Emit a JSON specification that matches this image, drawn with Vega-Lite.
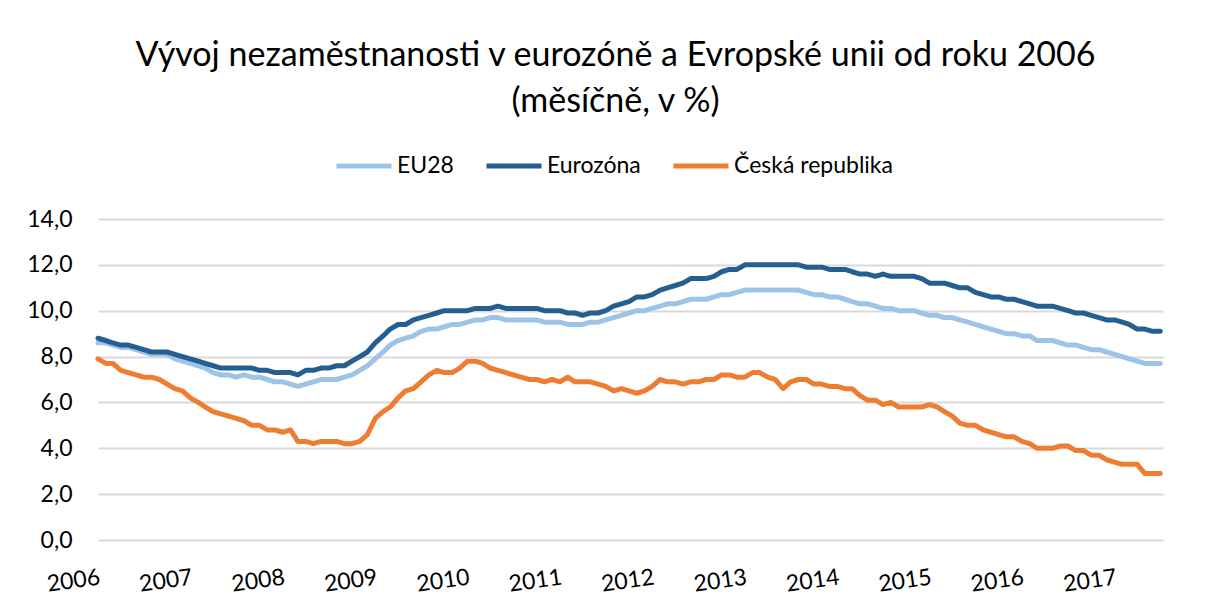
{
  "$schema": "https://vega.github.io/schema/vega-lite/v6.json",
  "width": 1065,
  "height": 321,
  "autosize": {"type": "none"},
  "padding": {"left": 98, "top": 219, "right": 51, "bottom": 67},
  "background": "white",
  "title": {
    "text": ["Vývoj nezaměstnanosti v eurozóně a Evropské unii od roku 2006", "(měsíčně, v %)"],
    "font": "Lato",
    "fontSize": 34,
    "fontWeight": "normal",
    "color": "#000000",
    "anchor": "middle",
    "frame": "group",
    "lineHeight": 46,
    "offset": 17,
    "dx": -15
  },
  "data": {
    "values": [
      {"d":"2006-01","s":"EU28","v":8.6},{"d":"2006-02","s":"EU28","v":8.6},{"d":"2006-03","s":"EU28","v":8.5},{"d":"2006-04","s":"EU28","v":8.4},{"d":"2006-05","s":"EU28","v":8.4},{"d":"2006-06","s":"EU28","v":8.3},{"d":"2006-07","s":"EU28","v":8.2},{"d":"2006-08","s":"EU28","v":8.1},{"d":"2006-09","s":"EU28","v":8.1},{"d":"2006-10","s":"EU28","v":8.1},{"d":"2006-11","s":"EU28","v":7.9},{"d":"2006-12","s":"EU28","v":7.8},
      {"d":"2007-01","s":"EU28","v":7.7},{"d":"2007-02","s":"EU28","v":7.6},{"d":"2007-03","s":"EU28","v":7.5},{"d":"2007-04","s":"EU28","v":7.3},{"d":"2007-05","s":"EU28","v":7.2},{"d":"2007-06","s":"EU28","v":7.2},{"d":"2007-07","s":"EU28","v":7.1},{"d":"2007-08","s":"EU28","v":7.2},{"d":"2007-09","s":"EU28","v":7.1},{"d":"2007-10","s":"EU28","v":7.1},{"d":"2007-11","s":"EU28","v":7.0},{"d":"2007-12","s":"EU28","v":6.9},
      {"d":"2008-01","s":"EU28","v":6.9},{"d":"2008-02","s":"EU28","v":6.8},{"d":"2008-03","s":"EU28","v":6.7},{"d":"2008-04","s":"EU28","v":6.8},{"d":"2008-05","s":"EU28","v":6.9},{"d":"2008-06","s":"EU28","v":7.0},{"d":"2008-07","s":"EU28","v":7.0},{"d":"2008-08","s":"EU28","v":7.0},{"d":"2008-09","s":"EU28","v":7.1},{"d":"2008-10","s":"EU28","v":7.2},{"d":"2008-11","s":"EU28","v":7.4},{"d":"2008-12","s":"EU28","v":7.6},
      {"d":"2009-01","s":"EU28","v":7.9},{"d":"2009-02","s":"EU28","v":8.2},{"d":"2009-03","s":"EU28","v":8.5},{"d":"2009-04","s":"EU28","v":8.7},{"d":"2009-05","s":"EU28","v":8.8},{"d":"2009-06","s":"EU28","v":8.9},{"d":"2009-07","s":"EU28","v":9.1},{"d":"2009-08","s":"EU28","v":9.2},{"d":"2009-09","s":"EU28","v":9.2},{"d":"2009-10","s":"EU28","v":9.3},{"d":"2009-11","s":"EU28","v":9.4},{"d":"2009-12","s":"EU28","v":9.4},
      {"d":"2010-01","s":"EU28","v":9.5},{"d":"2010-02","s":"EU28","v":9.6},{"d":"2010-03","s":"EU28","v":9.6},{"d":"2010-04","s":"EU28","v":9.7},{"d":"2010-05","s":"EU28","v":9.7},{"d":"2010-06","s":"EU28","v":9.6},{"d":"2010-07","s":"EU28","v":9.6},{"d":"2010-08","s":"EU28","v":9.6},{"d":"2010-09","s":"EU28","v":9.6},{"d":"2010-10","s":"EU28","v":9.6},{"d":"2010-11","s":"EU28","v":9.5},{"d":"2010-12","s":"EU28","v":9.5},
      {"d":"2011-01","s":"EU28","v":9.5},{"d":"2011-02","s":"EU28","v":9.4},{"d":"2011-03","s":"EU28","v":9.4},{"d":"2011-04","s":"EU28","v":9.4},{"d":"2011-05","s":"EU28","v":9.5},{"d":"2011-06","s":"EU28","v":9.5},{"d":"2011-07","s":"EU28","v":9.6},{"d":"2011-08","s":"EU28","v":9.7},{"d":"2011-09","s":"EU28","v":9.8},{"d":"2011-10","s":"EU28","v":9.9},{"d":"2011-11","s":"EU28","v":10.0},{"d":"2011-12","s":"EU28","v":10.0},
      {"d":"2012-01","s":"EU28","v":10.1},{"d":"2012-02","s":"EU28","v":10.2},{"d":"2012-03","s":"EU28","v":10.3},{"d":"2012-04","s":"EU28","v":10.3},{"d":"2012-05","s":"EU28","v":10.4},{"d":"2012-06","s":"EU28","v":10.5},{"d":"2012-07","s":"EU28","v":10.5},{"d":"2012-08","s":"EU28","v":10.5},{"d":"2012-09","s":"EU28","v":10.6},{"d":"2012-10","s":"EU28","v":10.7},{"d":"2012-11","s":"EU28","v":10.7},{"d":"2012-12","s":"EU28","v":10.8},
      {"d":"2013-01","s":"EU28","v":10.9},{"d":"2013-02","s":"EU28","v":10.9},{"d":"2013-03","s":"EU28","v":10.9},{"d":"2013-04","s":"EU28","v":10.9},{"d":"2013-05","s":"EU28","v":10.9},{"d":"2013-06","s":"EU28","v":10.9},{"d":"2013-07","s":"EU28","v":10.9},{"d":"2013-08","s":"EU28","v":10.9},{"d":"2013-09","s":"EU28","v":10.8},{"d":"2013-10","s":"EU28","v":10.7},{"d":"2013-11","s":"EU28","v":10.7},{"d":"2013-12","s":"EU28","v":10.6},
      {"d":"2014-01","s":"EU28","v":10.6},{"d":"2014-02","s":"EU28","v":10.5},{"d":"2014-03","s":"EU28","v":10.4},{"d":"2014-04","s":"EU28","v":10.3},{"d":"2014-05","s":"EU28","v":10.3},{"d":"2014-06","s":"EU28","v":10.2},{"d":"2014-07","s":"EU28","v":10.1},{"d":"2014-08","s":"EU28","v":10.1},{"d":"2014-09","s":"EU28","v":10.0},{"d":"2014-10","s":"EU28","v":10.0},{"d":"2014-11","s":"EU28","v":10.0},{"d":"2014-12","s":"EU28","v":9.9},
      {"d":"2015-01","s":"EU28","v":9.8},{"d":"2015-02","s":"EU28","v":9.8},{"d":"2015-03","s":"EU28","v":9.7},{"d":"2015-04","s":"EU28","v":9.7},{"d":"2015-05","s":"EU28","v":9.6},{"d":"2015-06","s":"EU28","v":9.5},{"d":"2015-07","s":"EU28","v":9.4},{"d":"2015-08","s":"EU28","v":9.3},{"d":"2015-09","s":"EU28","v":9.2},{"d":"2015-10","s":"EU28","v":9.1},{"d":"2015-11","s":"EU28","v":9.0},{"d":"2015-12","s":"EU28","v":9.0},
      {"d":"2016-01","s":"EU28","v":8.9},{"d":"2016-02","s":"EU28","v":8.9},{"d":"2016-03","s":"EU28","v":8.7},{"d":"2016-04","s":"EU28","v":8.7},{"d":"2016-05","s":"EU28","v":8.7},{"d":"2016-06","s":"EU28","v":8.6},{"d":"2016-07","s":"EU28","v":8.5},{"d":"2016-08","s":"EU28","v":8.5},{"d":"2016-09","s":"EU28","v":8.4},{"d":"2016-10","s":"EU28","v":8.3},{"d":"2016-11","s":"EU28","v":8.3},{"d":"2016-12","s":"EU28","v":8.2},
      {"d":"2017-01","s":"EU28","v":8.1},{"d":"2017-02","s":"EU28","v":8.0},{"d":"2017-03","s":"EU28","v":7.9},{"d":"2017-04","s":"EU28","v":7.8},{"d":"2017-05","s":"EU28","v":7.7},{"d":"2017-06","s":"EU28","v":7.7},{"d":"2017-07","s":"EU28","v":7.7},

      {"d":"2006-01","s":"Eurozóna","v":8.8},{"d":"2006-02","s":"Eurozóna","v":8.7},{"d":"2006-03","s":"Eurozóna","v":8.6},{"d":"2006-04","s":"Eurozóna","v":8.5},{"d":"2006-05","s":"Eurozóna","v":8.5},{"d":"2006-06","s":"Eurozóna","v":8.4},{"d":"2006-07","s":"Eurozóna","v":8.3},{"d":"2006-08","s":"Eurozóna","v":8.2},{"d":"2006-09","s":"Eurozóna","v":8.2},{"d":"2006-10","s":"Eurozóna","v":8.2},{"d":"2006-11","s":"Eurozóna","v":8.1},{"d":"2006-12","s":"Eurozóna","v":8.0},
      {"d":"2007-01","s":"Eurozóna","v":7.9},{"d":"2007-02","s":"Eurozóna","v":7.8},{"d":"2007-03","s":"Eurozóna","v":7.7},{"d":"2007-04","s":"Eurozóna","v":7.6},{"d":"2007-05","s":"Eurozóna","v":7.5},{"d":"2007-06","s":"Eurozóna","v":7.5},{"d":"2007-07","s":"Eurozóna","v":7.5},{"d":"2007-08","s":"Eurozóna","v":7.5},{"d":"2007-09","s":"Eurozóna","v":7.5},{"d":"2007-10","s":"Eurozóna","v":7.4},{"d":"2007-11","s":"Eurozóna","v":7.4},{"d":"2007-12","s":"Eurozóna","v":7.3},
      {"d":"2008-01","s":"Eurozóna","v":7.3},{"d":"2008-02","s":"Eurozóna","v":7.3},{"d":"2008-03","s":"Eurozóna","v":7.2},{"d":"2008-04","s":"Eurozóna","v":7.4},{"d":"2008-05","s":"Eurozóna","v":7.4},{"d":"2008-06","s":"Eurozóna","v":7.5},{"d":"2008-07","s":"Eurozóna","v":7.5},{"d":"2008-08","s":"Eurozóna","v":7.6},{"d":"2008-09","s":"Eurozóna","v":7.6},{"d":"2008-10","s":"Eurozóna","v":7.8},{"d":"2008-11","s":"Eurozóna","v":8.0},{"d":"2008-12","s":"Eurozóna","v":8.2},
      {"d":"2009-01","s":"Eurozóna","v":8.6},{"d":"2009-02","s":"Eurozóna","v":8.9},{"d":"2009-03","s":"Eurozóna","v":9.2},{"d":"2009-04","s":"Eurozóna","v":9.4},{"d":"2009-05","s":"Eurozóna","v":9.4},{"d":"2009-06","s":"Eurozóna","v":9.6},{"d":"2009-07","s":"Eurozóna","v":9.7},{"d":"2009-08","s":"Eurozóna","v":9.8},{"d":"2009-09","s":"Eurozóna","v":9.9},{"d":"2009-10","s":"Eurozóna","v":10.0},{"d":"2009-11","s":"Eurozóna","v":10.0},{"d":"2009-12","s":"Eurozóna","v":10.0},
      {"d":"2010-01","s":"Eurozóna","v":10.0},{"d":"2010-02","s":"Eurozóna","v":10.1},{"d":"2010-03","s":"Eurozóna","v":10.1},{"d":"2010-04","s":"Eurozóna","v":10.1},{"d":"2010-05","s":"Eurozóna","v":10.2},{"d":"2010-06","s":"Eurozóna","v":10.1},{"d":"2010-07","s":"Eurozóna","v":10.1},{"d":"2010-08","s":"Eurozóna","v":10.1},{"d":"2010-09","s":"Eurozóna","v":10.1},{"d":"2010-10","s":"Eurozóna","v":10.1},{"d":"2010-11","s":"Eurozóna","v":10.0},{"d":"2010-12","s":"Eurozóna","v":10.0},
      {"d":"2011-01","s":"Eurozóna","v":10.0},{"d":"2011-02","s":"Eurozóna","v":9.9},{"d":"2011-03","s":"Eurozóna","v":9.9},{"d":"2011-04","s":"Eurozóna","v":9.8},{"d":"2011-05","s":"Eurozóna","v":9.9},{"d":"2011-06","s":"Eurozóna","v":9.9},{"d":"2011-07","s":"Eurozóna","v":10.0},{"d":"2011-08","s":"Eurozóna","v":10.2},{"d":"2011-09","s":"Eurozóna","v":10.3},{"d":"2011-10","s":"Eurozóna","v":10.4},{"d":"2011-11","s":"Eurozóna","v":10.6},{"d":"2011-12","s":"Eurozóna","v":10.6},
      {"d":"2012-01","s":"Eurozóna","v":10.7},{"d":"2012-02","s":"Eurozóna","v":10.9},{"d":"2012-03","s":"Eurozóna","v":11.0},{"d":"2012-04","s":"Eurozóna","v":11.1},{"d":"2012-05","s":"Eurozóna","v":11.2},{"d":"2012-06","s":"Eurozóna","v":11.4},{"d":"2012-07","s":"Eurozóna","v":11.4},{"d":"2012-08","s":"Eurozóna","v":11.4},{"d":"2012-09","s":"Eurozóna","v":11.5},{"d":"2012-10","s":"Eurozóna","v":11.7},{"d":"2012-11","s":"Eurozóna","v":11.8},{"d":"2012-12","s":"Eurozóna","v":11.8},
      {"d":"2013-01","s":"Eurozóna","v":12.0},{"d":"2013-02","s":"Eurozóna","v":12.0},{"d":"2013-03","s":"Eurozóna","v":12.0},{"d":"2013-04","s":"Eurozóna","v":12.0},{"d":"2013-05","s":"Eurozóna","v":12.0},{"d":"2013-06","s":"Eurozóna","v":12.0},{"d":"2013-07","s":"Eurozóna","v":12.0},{"d":"2013-08","s":"Eurozóna","v":12.0},{"d":"2013-09","s":"Eurozóna","v":11.9},{"d":"2013-10","s":"Eurozóna","v":11.9},{"d":"2013-11","s":"Eurozóna","v":11.9},{"d":"2013-12","s":"Eurozóna","v":11.8},
      {"d":"2014-01","s":"Eurozóna","v":11.8},{"d":"2014-02","s":"Eurozóna","v":11.8},{"d":"2014-03","s":"Eurozóna","v":11.7},{"d":"2014-04","s":"Eurozóna","v":11.6},{"d":"2014-05","s":"Eurozóna","v":11.6},{"d":"2014-06","s":"Eurozóna","v":11.5},{"d":"2014-07","s":"Eurozóna","v":11.6},{"d":"2014-08","s":"Eurozóna","v":11.5},{"d":"2014-09","s":"Eurozóna","v":11.5},{"d":"2014-10","s":"Eurozóna","v":11.5},{"d":"2014-11","s":"Eurozóna","v":11.5},{"d":"2014-12","s":"Eurozóna","v":11.4},
      {"d":"2015-01","s":"Eurozóna","v":11.2},{"d":"2015-02","s":"Eurozóna","v":11.2},{"d":"2015-03","s":"Eurozóna","v":11.2},{"d":"2015-04","s":"Eurozóna","v":11.1},{"d":"2015-05","s":"Eurozóna","v":11.0},{"d":"2015-06","s":"Eurozóna","v":11.0},{"d":"2015-07","s":"Eurozóna","v":10.8},{"d":"2015-08","s":"Eurozóna","v":10.7},{"d":"2015-09","s":"Eurozóna","v":10.6},{"d":"2015-10","s":"Eurozóna","v":10.6},{"d":"2015-11","s":"Eurozóna","v":10.5},{"d":"2015-12","s":"Eurozóna","v":10.5},
      {"d":"2016-01","s":"Eurozóna","v":10.4},{"d":"2016-02","s":"Eurozóna","v":10.3},{"d":"2016-03","s":"Eurozóna","v":10.2},{"d":"2016-04","s":"Eurozóna","v":10.2},{"d":"2016-05","s":"Eurozóna","v":10.2},{"d":"2016-06","s":"Eurozóna","v":10.1},{"d":"2016-07","s":"Eurozóna","v":10.0},{"d":"2016-08","s":"Eurozóna","v":9.9},{"d":"2016-09","s":"Eurozóna","v":9.9},{"d":"2016-10","s":"Eurozóna","v":9.8},{"d":"2016-11","s":"Eurozóna","v":9.7},{"d":"2016-12","s":"Eurozóna","v":9.6},
      {"d":"2017-01","s":"Eurozóna","v":9.6},{"d":"2017-02","s":"Eurozóna","v":9.5},{"d":"2017-03","s":"Eurozóna","v":9.4},{"d":"2017-04","s":"Eurozóna","v":9.2},{"d":"2017-05","s":"Eurozóna","v":9.2},{"d":"2017-06","s":"Eurozóna","v":9.1},{"d":"2017-07","s":"Eurozóna","v":9.1},

      {"d":"2006-01","s":"Česká republika","v":7.9},{"d":"2006-02","s":"Česká republika","v":7.7},{"d":"2006-03","s":"Česká republika","v":7.7},{"d":"2006-04","s":"Česká republika","v":7.4},{"d":"2006-05","s":"Česká republika","v":7.3},{"d":"2006-06","s":"Česká republika","v":7.2},{"d":"2006-07","s":"Česká republika","v":7.1},{"d":"2006-08","s":"Česká republika","v":7.1},{"d":"2006-09","s":"Česká republika","v":7.0},{"d":"2006-10","s":"Česká republika","v":6.8},{"d":"2006-11","s":"Česká republika","v":6.6},{"d":"2006-12","s":"Česká republika","v":6.5},
      {"d":"2007-01","s":"Česká republika","v":6.2},{"d":"2007-02","s":"Česká republika","v":6.0},{"d":"2007-03","s":"Česká republika","v":5.8},{"d":"2007-04","s":"Česká republika","v":5.6},{"d":"2007-05","s":"Česká republika","v":5.5},{"d":"2007-06","s":"Česká republika","v":5.4},{"d":"2007-07","s":"Česká republika","v":5.3},{"d":"2007-08","s":"Česká republika","v":5.2},{"d":"2007-09","s":"Česká republika","v":5.0},{"d":"2007-10","s":"Česká republika","v":5.0},{"d":"2007-11","s":"Česká republika","v":4.8},{"d":"2007-12","s":"Česká republika","v":4.8},
      {"d":"2008-01","s":"Česká republika","v":4.7},{"d":"2008-02","s":"Česká republika","v":4.8},{"d":"2008-03","s":"Česká republika","v":4.3},{"d":"2008-04","s":"Česká republika","v":4.3},{"d":"2008-05","s":"Česká republika","v":4.2},{"d":"2008-06","s":"Česká republika","v":4.3},{"d":"2008-07","s":"Česká republika","v":4.3},{"d":"2008-08","s":"Česká republika","v":4.3},{"d":"2008-09","s":"Česká republika","v":4.2},{"d":"2008-10","s":"Česká republika","v":4.2},{"d":"2008-11","s":"Česká republika","v":4.3},{"d":"2008-12","s":"Česká republika","v":4.6},
      {"d":"2009-01","s":"Česká republika","v":5.3},{"d":"2009-02","s":"Česká republika","v":5.6},{"d":"2009-03","s":"Česká republika","v":5.8},{"d":"2009-04","s":"Česká republika","v":6.2},{"d":"2009-05","s":"Česká republika","v":6.5},{"d":"2009-06","s":"Česká republika","v":6.6},{"d":"2009-07","s":"Česká republika","v":6.9},{"d":"2009-08","s":"Česká republika","v":7.2},{"d":"2009-09","s":"Česká republika","v":7.4},{"d":"2009-10","s":"Česká republika","v":7.3},{"d":"2009-11","s":"Česká republika","v":7.3},{"d":"2009-12","s":"Česká republika","v":7.5},
      {"d":"2010-01","s":"Česká republika","v":7.8},{"d":"2010-02","s":"Česká republika","v":7.8},{"d":"2010-03","s":"Česká republika","v":7.7},{"d":"2010-04","s":"Česká republika","v":7.5},{"d":"2010-05","s":"Česká republika","v":7.4},{"d":"2010-06","s":"Česká republika","v":7.3},{"d":"2010-07","s":"Česká republika","v":7.2},{"d":"2010-08","s":"Česká republika","v":7.1},{"d":"2010-09","s":"Česká republika","v":7.0},{"d":"2010-10","s":"Česká republika","v":7.0},{"d":"2010-11","s":"Česká republika","v":6.9},{"d":"2010-12","s":"Česká republika","v":7.0},
      {"d":"2011-01","s":"Česká republika","v":6.9},{"d":"2011-02","s":"Česká republika","v":7.1},{"d":"2011-03","s":"Česká republika","v":6.9},{"d":"2011-04","s":"Česká republika","v":6.9},{"d":"2011-05","s":"Česká republika","v":6.9},{"d":"2011-06","s":"Česká republika","v":6.8},{"d":"2011-07","s":"Česká republika","v":6.7},{"d":"2011-08","s":"Česká republika","v":6.5},{"d":"2011-09","s":"Česká republika","v":6.6},{"d":"2011-10","s":"Česká republika","v":6.5},{"d":"2011-11","s":"Česká republika","v":6.4},{"d":"2011-12","s":"Česká republika","v":6.5},
      {"d":"2012-01","s":"Česká republika","v":6.7},{"d":"2012-02","s":"Česká republika","v":7.0},{"d":"2012-03","s":"Česká republika","v":6.9},{"d":"2012-04","s":"Česká republika","v":6.9},{"d":"2012-05","s":"Česká republika","v":6.8},{"d":"2012-06","s":"Česká republika","v":6.9},{"d":"2012-07","s":"Česká republika","v":6.9},{"d":"2012-08","s":"Česká republika","v":7.0},{"d":"2012-09","s":"Česká republika","v":7.0},{"d":"2012-10","s":"Česká republika","v":7.2},{"d":"2012-11","s":"Česká republika","v":7.2},{"d":"2012-12","s":"Česká republika","v":7.1},
      {"d":"2013-01","s":"Česká republika","v":7.1},{"d":"2013-02","s":"Česká republika","v":7.3},{"d":"2013-03","s":"Česká republika","v":7.3},{"d":"2013-04","s":"Česká republika","v":7.1},{"d":"2013-05","s":"Česká republika","v":7.0},{"d":"2013-06","s":"Česká republika","v":6.6},{"d":"2013-07","s":"Česká republika","v":6.9},{"d":"2013-08","s":"Česká republika","v":7.0},{"d":"2013-09","s":"Česká republika","v":7.0},{"d":"2013-10","s":"Česká republika","v":6.8},{"d":"2013-11","s":"Česká republika","v":6.8},{"d":"2013-12","s":"Česká republika","v":6.7},
      {"d":"2014-01","s":"Česká republika","v":6.7},{"d":"2014-02","s":"Česká republika","v":6.6},{"d":"2014-03","s":"Česká republika","v":6.6},{"d":"2014-04","s":"Česká republika","v":6.3},{"d":"2014-05","s":"Česká republika","v":6.1},{"d":"2014-06","s":"Česká republika","v":6.1},{"d":"2014-07","s":"Česká republika","v":5.9},{"d":"2014-08","s":"Česká republika","v":6.0},{"d":"2014-09","s":"Česká republika","v":5.8},{"d":"2014-10","s":"Česká republika","v":5.8},{"d":"2014-11","s":"Česká republika","v":5.8},{"d":"2014-12","s":"Česká republika","v":5.8},
      {"d":"2015-01","s":"Česká republika","v":5.9},{"d":"2015-02","s":"Česká republika","v":5.8},{"d":"2015-03","s":"Česká republika","v":5.6},{"d":"2015-04","s":"Česká republika","v":5.4},{"d":"2015-05","s":"Česká republika","v":5.1},{"d":"2015-06","s":"Česká republika","v":5.0},{"d":"2015-07","s":"Česká republika","v":5.0},{"d":"2015-08","s":"Česká republika","v":4.8},{"d":"2015-09","s":"Česká republika","v":4.7},{"d":"2015-10","s":"Česká republika","v":4.6},{"d":"2015-11","s":"Česká republika","v":4.5},{"d":"2015-12","s":"Česká republika","v":4.5},
      {"d":"2016-01","s":"Česká republika","v":4.3},{"d":"2016-02","s":"Česká republika","v":4.2},{"d":"2016-03","s":"Česká republika","v":4.0},{"d":"2016-04","s":"Česká republika","v":4.0},{"d":"2016-05","s":"Česká republika","v":4.0},{"d":"2016-06","s":"Česká republika","v":4.1},{"d":"2016-07","s":"Česká republika","v":4.1},{"d":"2016-08","s":"Česká republika","v":3.9},{"d":"2016-09","s":"Česká republika","v":3.9},{"d":"2016-10","s":"Česká republika","v":3.7},{"d":"2016-11","s":"Česká republika","v":3.7},{"d":"2016-12","s":"Česká republika","v":3.5},
      {"d":"2017-01","s":"Česká republika","v":3.4},{"d":"2017-02","s":"Česká republika","v":3.3},{"d":"2017-03","s":"Česká republika","v":3.3},{"d":"2017-04","s":"Česká republika","v":3.3},{"d":"2017-05","s":"Česká republika","v":2.9},{"d":"2017-06","s":"Česká republika","v":2.9},{"d":"2017-07","s":"Česká republika","v":2.9}
    ]
  },
  "mark": {"type": "line", "strokeWidth": 5, "strokeCap": "round", "strokeJoin": "round"},
  "encoding": {
    "x": {
      "field": "d",
      "type": "temporal",
      "scale": {"domain": ["2006-01", "2017-07-12"]},
      "axis": {
        "title": null,
        "format": "%Y",
        "tickCount": {"interval": "year", "step": 1},
        "grid": false,
        "domain": false,
        "ticks": false,
        "labelFont": "Lato",
        "labelFontSize": 23,
        "labelColor": "#000000",
        "labelAngle": -8,
        "labelAlign": "right",
        "labelBaseline": "top",
        "labelPadding": 26,
        "labelOverlap": false,
        "labelFlush": false
      }
    },
    "y": {
      "field": "v",
      "type": "quantitative",
      "scale": {"domain": [0, 14], "nice": false},
      "axis": {
        "title": null,
        "values": [0, 2, 4, 6, 8, 10, 12, 14],
        "labelExpr": "replace(format(datum.value, '.1f'), '.', ',')",
        "grid": true,
        "gridColor": "#d9d9d9",
        "gridWidth": 2,
        "domain": false,
        "ticks": false,
        "labelFont": "Lato",
        "labelFontSize": 23,
        "labelColor": "#000000",
        "labelPadding": 26
      }
    },
    "color": {
      "field": "s",
      "type": "nominal",
      "scale": {
        "domain": ["EU28", "Eurozóna", "Česká republika"],
        "range": ["#9DC3E6", "#255E91", "#ED7D31"]
      },
      "legend": {
        "title": null,
        "orient": "none",
        "legendX": 236,
        "legendY": -83,
        "direction": "horizontal",
        "symbolType": "stroke",
        "symbolSize": 3025,
        "symbolStrokeWidth": 5,
        "labelFont": "Lato",
        "labelFontSize": 23,
        "labelColor": "#000000",
        "labelLimit": 0,
        "labelOffset": 3,
        "columnPadding": 22
      }
    }
  },
  "config": {
    "view": {"stroke": null}
  }
}
